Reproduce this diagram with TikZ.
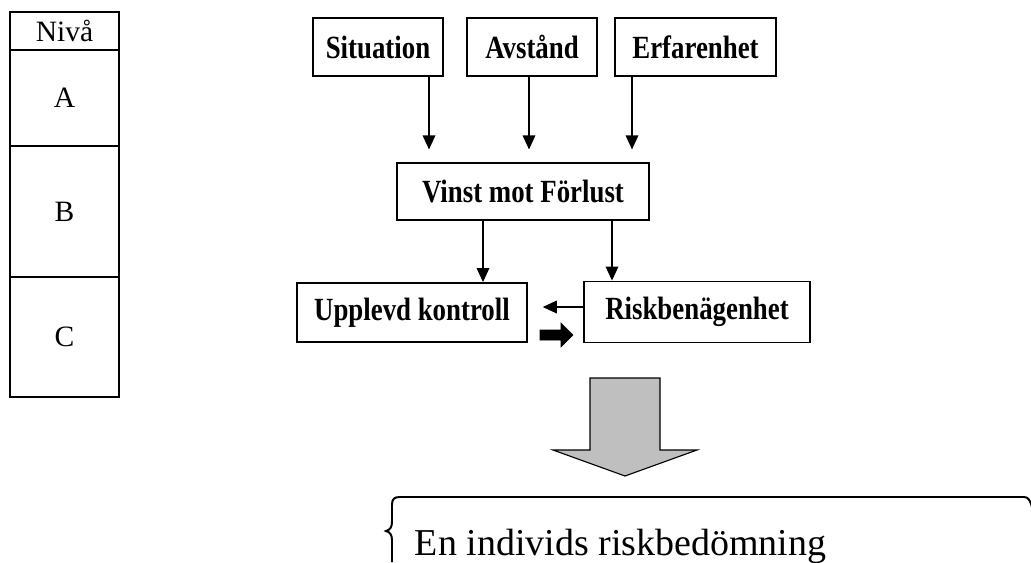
\documentclass[tikz,border=0pt]{standalone}
\usepackage{fontspec}
\setmainfont{Liberation Serif}
\newfontfamily\boxfont[FakeStretch=0.83]{Liberation Serif}
\usetikzlibrary{arrows.meta}

\begin{document}
\begin{tikzpicture}[x=0.025cm, y=-0.025cm,
		box/.style={shape=rectangle, draw=black, line width=1.3pt, inner sep=0pt, font=\boxfont\fontsize{23}{27}\selectfont\bfseries},
		cell/.style={shape=rectangle, draw=black, line width=1.3pt, inner sep=0pt, minimum width=2.725cm, font=\fontsize{21}{25}\selectfont},
		link/.style={->, line width=0.9pt},
		>={Triangle[width=9pt,length=10pt]},
]
\useasboundingbox (0,0) rectangle (1031,562);

% level table
\node[cell, minimum height=0.95cm] (niva) at (64.5,31) {Nivå};
\node[cell, minimum height=2.4cm] (lva) at (64.5,98) {A};
\node[cell, minimum height=3.275cm] (lvb) at (64.5,211.5) {B};
\node[cell, minimum height=3cm] (lvc) at (64.5,337) {C};

% level A
\node[box, minimum width=3.25cm, minimum height=1.45cm] (sit) at (378,47) {Situation};
\node[box, minimum width=3.25cm, minimum height=1.45cm] (avs) at (532,47) {Avstånd};
\node[box, minimum width=4.025cm, minimum height=1.45cm] (erf) at (695.5,47) {Erfarenhet};

% level B
\node[box, minimum width=6.3cm, minimum height=1.425cm] (vin) at (523,191.5) {Vinst mot Förlust};
\node[box, minimum width=5.75cm, minimum height=1.475cm] (upp) at (412,312.5) {Upplevd kontroll};
\node[box, minimum width=5.65cm, minimum height=1.525cm] (risk) at (697,312) {Riskbenägenhet};

\coordinate (x1) at (429,0);
\coordinate (x2) at (529,0);
\coordinate (x3) at (632,0);
\coordinate (x4) at (483,0);
\coordinate (x5) at (612,0);
\coordinate (y1) at (0,307);

\draw [link, shorten >=9pt] (sit.south -| x1) -- (vin.north -| x1);
\draw [link, shorten >=9pt] (avs.south -| x2) -- (vin.north -| x2);
\draw [link, shorten >=9pt] (erf.south -| x3) -- (vin.north -| x3);
\draw [link] (vin.south -| x4) -- (upp.north -| x4);
\draw [link] (vin.south -| x5) -- (risk.north -| x5);
\draw [link, shorten >=10.5pt] (risk.west |- y1) -- (upp.east |- y1);

% block arrows
\filldraw[black] (540,330) -- (561,330) -- (561,323) -- (573,335) -- (561,347) -- (561,340) -- (540,340) -- cycle;
\filldraw[fill=gray!50, draw=black, line width=0.8pt] (590,378) -- (660,378) -- (660,450) -- (697,450) -- (625,476) -- (553,450) -- (590,450) -- cycle;

% level C
\draw[line width=1.4pt] (392,562) -- (392,540) .. controls (392,535) and (390,532) .. (386,531)
	.. controls (390,530) and (392,527) .. (392,522) -- (392,505)
	.. controls (392,499) and (394,497) .. (400,497) -- (1024,497)
	.. controls (1028,497) and (1030,500) .. (1032,507) -- (1033,562);
\node[anchor=base, font=\fontsize{27}{32}\selectfont] (res) at (620.5,555) {En individs riskbedömning};

\end{tikzpicture}
\end{document}
